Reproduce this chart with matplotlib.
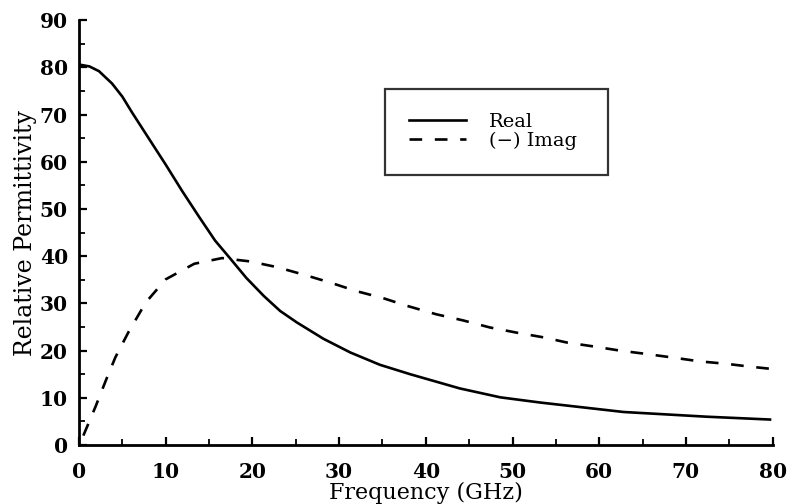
import numpy as np
import matplotlib
matplotlib.use('Agg')
import matplotlib.pyplot as plt
from matplotlib.ticker import MultipleLocator

# values
freq_real = [0, 1.2, 2.3, 3.8, 5.0, 6.1, 8.1, 10.0, 11.9, 13.9, 15.7, 17.4, 19.3,
             21.3, 23.2, 25.1, 28.2, 31.3, 34.7, 38.2, 43.9, 48.6, 53.2, 62.8,
             72.4, 79.7]
eps_real = [80.6, 80.2, 79.2, 76.6, 73.8, 70.5, 64.8, 59.4, 53.8, 48.2, 43.3, 39.6, 35.4,
            31.6, 28.4, 26.0, 22.5, 19.6, 17.0, 15.0, 12.0, 10.1, 9.0, 7.0,
            6.0, 5.4]

freq_imag = [0.5, 1.9, 3.1, 4.2, 5.7, 7.7, 10.0, 13.3, 16.5, 19.7, 22.8, 25.9,
             29.0, 32.0, 35.1, 37.8, 41.2, 44.3, 47.4, 50.5, 53.6, 56.3, 59.3,
             62.4, 65.4, 68.6, 71.7, 74.7, 77.4, 80.0]
eps_imag = [2.0, 8.1, 13.7, 18.6, 23.9, 30.2, 35.1, 38.4, 39.6, 38.9, 37.7, 36.1,
            34.4, 32.6, 31.1, 29.5, 27.7, 26.4, 24.9, 23.8, 22.8, 21.7, 20.9,
            20.0, 19.3, 18.5, 17.7, 17.2, 16.6, 16.1]

plt.rcParams['font.family'] = ['DejaVu Serif']

fig = plt.figure(figsize=(7.9, 5.04), dpi=100)
ax = fig.add_axes([0.100, 0.117, 0.878, 0.843])

ax.plot(freq_real, eps_real, color='black', lw=1.9, label='Real')
ln, = ax.plot(freq_imag, eps_imag, color='black', lw=1.9, label='(\u2212) Imag')
ln.set_dashes((4.8, 4.8))

ax.set_xlim(0, 80)
ax.set_ylim(0, 90)
ax.spines['top'].set_visible(False)
ax.spines['right'].set_visible(False)
ax.spines['left'].set_linewidth(2.0)
ax.spines['bottom'].set_linewidth(2.0)

ax.xaxis.set_major_locator(MultipleLocator(10))
ax.xaxis.set_minor_locator(MultipleLocator(5))
ax.yaxis.set_major_locator(MultipleLocator(10))
ax.yaxis.set_minor_locator(MultipleLocator(5))
ax.tick_params(which='major', direction='in', length=6, width=1.6, labelsize=14.5)
ax.tick_params(axis='x', which='major', pad=12)
ax.tick_params(axis='y', which='major', pad=8)
ax.tick_params(which='minor', direction='in', length=4, width=1.3)
for lab in ax.get_xticklabels() + ax.get_yticklabels():
    lab.set_fontweight('bold')

ax.set_xlabel('Frequency (GHz)', fontsize=16, labelpad=0)
ax.set_ylabel('Relative Permittivity', fontsize=17, labelpad=2)

leg = ax.legend(loc='center', bbox_to_anchor=(0.441, 0.635, 0.321, 0.205),
                mode='expand', borderaxespad=0, fontsize=14, frameon=True,
                fancybox=False, edgecolor='black', borderpad=1.25,
                handlelength=2.9, handletextpad=1.2, labelspacing=0.05)
leg.get_frame().set_linewidth(1.6)

fig.savefig('out.png', dpi=100)
